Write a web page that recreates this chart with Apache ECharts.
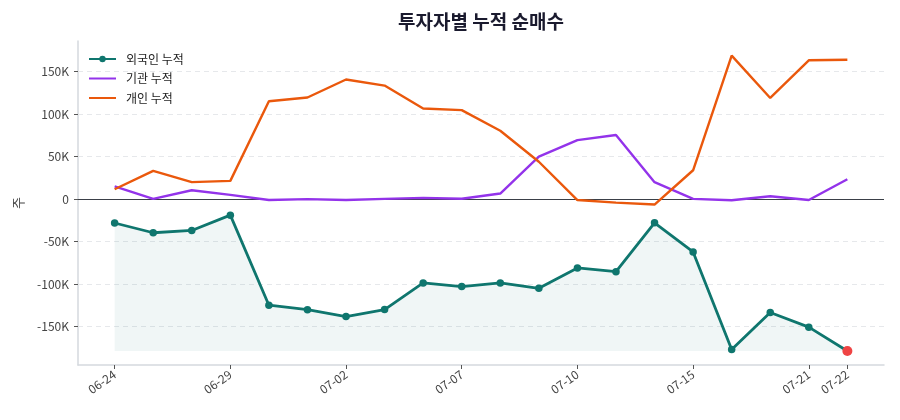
<!DOCTYPE html>
<html>
<head>
<meta charset="utf-8">
<script src="https://cdn.jsdelivr.net/npm/echarts@6/dist/echarts.min.js"></script>
<style>
  html, body { margin: 0; padding: 0; background: #fff; }
  #main { width: 900px; height: 420px; }
</style>
</head>
<body>
<div id="main"></div>
<script>
var dates = ['06-24', '06-25', '06-26', '06-29', '06-30', '07-01', '07-02', '07-03', '07-06', '07-07',
             '07-08', '07-09', '07-10', '07-13', '07-14', '07-15', '07-16', '07-17', '07-21', '07-22'];
var foreign = [-28000, -39500, -36800, -18800, -124700, -130000, -138000, -129800, -98500, -102800,
               -98500, -104800, -80900, -85200, -27800, -62100, -176700, -133300, -150500, -178600];
var institution = [15000, 300, 10500, 5000, -1000, 0, -1000, 300, 1500, 500,
                   6600, 50000, 69500, 75400, 20000, 300, -1200, 3500, -1000, 23400];
var individual = [11700, 33200, 20000, 21500, 115200, 119600, 140700, 133600, 106700, 104700,
                  80400, 44000, -1000, -4000, -6300, 34000, 168800, 119000, 163300, 164000];
var yTicks = [-150000, -100000, -50000, 0, 50000, 100000, 150000];
var xTickIdx = [0, 3, 6, 9, 12, 15, 18, 19];

var FONT = 'Noto Sans CJK KR';

var dom = document.getElementById('main');
var myChart = echarts.init(dom, null, { renderer: 'canvas' });

function pairs(arr) {
    return arr.map(function (v, i) { return [i, v]; });
}

var foreignData = pairs(foreign);
var last = foreignData.length - 1;
foreignData[last] = {
    value: foreignData[last],
    symbolSize: 10,
    itemStyle: { color: '#ef4444' }
};

var fillBase = Math.min.apply(null, foreign);

function kFmt(v) {
    if (v === 0) return '0';
    return (v / 1000) + 'K';
}

var gridLines = yTicks.filter(function (v) { return v !== 0; }).map(function (v) {
    return { yAxis: v };
});

myChart.setOption({
    animation: false,
    textStyle: { fontFamily: FONT },
    graphic: [{
        type: 'text',
        x: 481,
        y: 22,
        style: {
            text: '투자자별 누적 순매수',
            align: 'center',
            verticalAlign: 'middle',
            fontFamily: FONT,
            fontSize: 19,
            fontWeight: 'bold',
            fill: '#1a1a2e'
        }
    }],
    legend: {
        orient: 'vertical',
        left: 83,
        top: 48,
        itemWidth: 27,
        itemHeight: 8,
        itemGap: 7.5,
        textStyle: { fontFamily: FONT, fontSize: 12, color: '#222', padding: [0, 0, 0, 5] },
        data: [
            { name: '외국인 누적' },
            { name: '기관 누적', itemStyle: { opacity: 0 } },
            { name: '개인 누적', itemStyle: { opacity: 0 } }
        ]
    },
    grid: { left: 78, right: 16, top: 41, bottom: 55 },
    xAxis: {
        type: 'value',
        min: -0.95,
        max: 19.95,
        axisLine: { show: true, onZero: false, lineStyle: { color: '#d5d9de', width: 1.5 } },
        axisTick: { show: true, length: 4, customValues: xTickIdx, lineStyle: { color: '#555' } },
        axisLabel: {
            customValues: xTickIdx,
            rotate: 35,
            fontSize: 12,
            color: '#444',
            margin: 8,
            formatter: function (v) { return dates[Math.round(v)] || ''; }
        },
        splitLine: { show: false }
    },
    yAxis: {
        type: 'value',
        min: -195000,
        max: 186000,
        name: '주',
        nameLocation: 'middle',
        nameGap: 53,
        nameRotate: 90,
        nameTextStyle: { fontFamily: FONT, fontSize: 13, color: '#444' },
        axisLine: { show: true, onZero: false, lineStyle: { color: '#d5d9de', width: 1.5 } },
        axisTick: { show: true, length: 4, customValues: yTicks, lineStyle: { color: '#555' } },
        axisLabel: {
            customValues: yTicks,
            fontSize: 12,
            color: '#444',
            margin: 9,
            formatter: kFmt
        },
        splitLine: { show: false }
    },
    series: [
        {
            name: '외국인 누적',
            type: 'line',
            data: foreignData,
            z: 4,
            symbol: 'circle',
            symbolSize: 7.5,
            showSymbol: true,
            lineStyle: { color: '#0f766e', width: 2.8 },
            itemStyle: { color: '#0f766e' },
            areaStyle: { color: 'rgba(15,118,110,0.09)', origin: fillBase },
            markLine: {
                silent: true,
                symbol: 'none',
                label: { show: false },
                data: gridLines.concat([{ yAxis: 0, lineStyle: { type: 'solid', color: '#3a3f47', width: 1.2 } }]),
                lineStyle: { type: [5, 4], color: '#e6e8eb', width: 1 },
                z: 1
            }
        },
        {
            name: '기관 누적',
            type: 'line',
            data: pairs(institution),
            z: 3,
            showSymbol: false,
            symbol: 'none',
            lineStyle: { color: '#9333ea', width: 2.4 },
            itemStyle: { color: '#9333ea' }
        },
        {
            name: '개인 누적',
            type: 'line',
            data: pairs(individual),
            z: 3,
            showSymbol: false,
            symbol: 'none',
            lineStyle: { color: '#ea580c', width: 2.4 },
            itemStyle: { color: '#ea580c' }
        }
    ]
});

window.onresize = function () {
    myChart.resize();
};
</script>
</body>
</html>
